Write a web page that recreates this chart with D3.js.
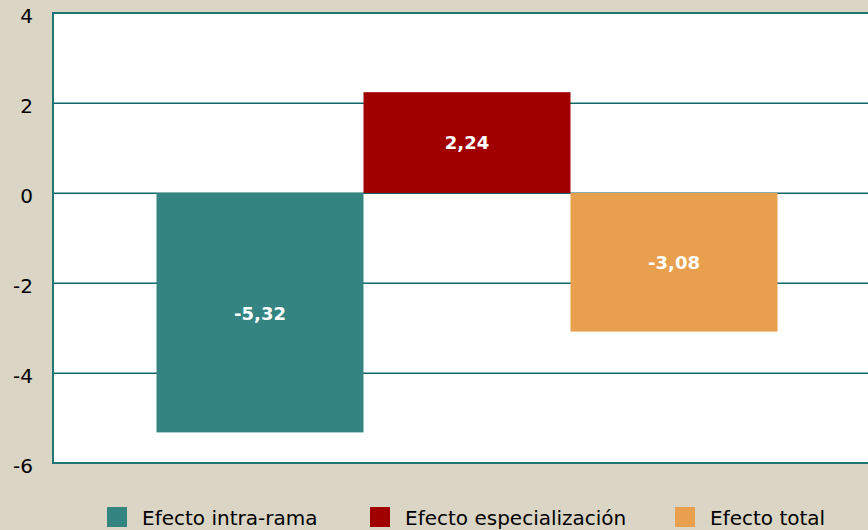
<!DOCTYPE html>
<html><head><meta charset="utf-8">
<script src="https://cdn.jsdelivr.net/npm/d3@7"></script>
<style>body{margin:0;background:#DAD5C4;}svg{display:block;}</style>
</head><body>
<svg id="c" width="868" height="530"></svg>
<script>
const series = ["Efecto intra-rama", "Efecto especialización", "Efecto total"];
const values = [-5.32, 2.24, -3.08];
const labels = ["-5,32", "2,24", "-3,08"];
const colors = ["#348482", "#A00000", "#E8A04E"];
const yTicks = [4, 2, 0, -2, -4, -6];

(function () {
const svg = d3.select("#c");
const font = "Tahoma, 'DejaVu Sans', Verdana, sans-serif";
const pL = 53, pT = 13, pR = 881, pB = 463;
const y = d3.scaleLinear().domain([-6, 4]).range([pB, pT]);
const x = d3.scaleBand().domain(series).range([pL, pR]).paddingOuter(0.5).paddingInner(0);

svg.append("rect").attr("x", pL).attr("y", pT).attr("width", pR - pL).attr("height", pB - pT).attr("fill", "#fff");

svg.append("g").selectAll("line").data(yTicks).join("line")
  .attr("x1", pL).attr("x2", pR).attr("y1", d => y(d) + 0.3).attr("y2", d => y(d) + 0.3)
  .attr("stroke", "#0F6767").attr("stroke-width", 1.4);

svg.append("g").selectAll("rect").data(values).join("rect")
  .attr("x", (d, i) => x(series[i]))
  .attr("width", x.bandwidth())
  .attr("y", d => y(Math.max(0, d)))
  .attr("height", d => Math.abs(y(d) - y(0)))
  .attr("fill", (d, i) => colors[i]);

svg.append("g").selectAll("text").data(values).join("text")
  .attr("x", (d, i) => x(series[i]) + x.bandwidth() / 2)
  .attr("y", d => (y(d) + y(0)) / 2)
  .attr("dy", "0.38em")
  .attr("text-anchor", "middle")
  .attr("fill", "#fff").attr("font-weight", "bold").attr("font-size", 18).attr("font-family", font)
  .text((d, i) => labels[i]);

svg.append("rect").attr("x", pL).attr("y", pT).attr("width", pR - pL).attr("height", pB - pT)
  .attr("fill", "none").attr("stroke", "#1F7573").attr("stroke-width", 2);

const yAxis = d3.axisLeft(y).tickValues(yTicks).tickSize(0).tickPadding(0).tickFormat(d => String(d));
const ga = svg.append("g").attr("transform", "translate(33,0)").call(yAxis);
ga.select(".domain").remove();
ga.selectAll("text").attr("font-size", 20).attr("font-family", font).attr("fill", "#000").attr("dy", "0.45em");

const legX = [107, 370, 675];
const lg = svg.append("g").selectAll("g").data(series).join("g")
  .attr("transform", (d, i) => `translate(${legX[i]},507)`);
lg.append("rect").attr("width", 20).attr("height", 20).attr("fill", (d, i) => colors[i]);
lg.append("text").attr("x", 35).attr("y", 10).attr("dy", "0.38em")
  .attr("font-size", 20).attr("font-family", font).attr("fill", "#000").text(d => d);
})();
</script>
</body></html>
